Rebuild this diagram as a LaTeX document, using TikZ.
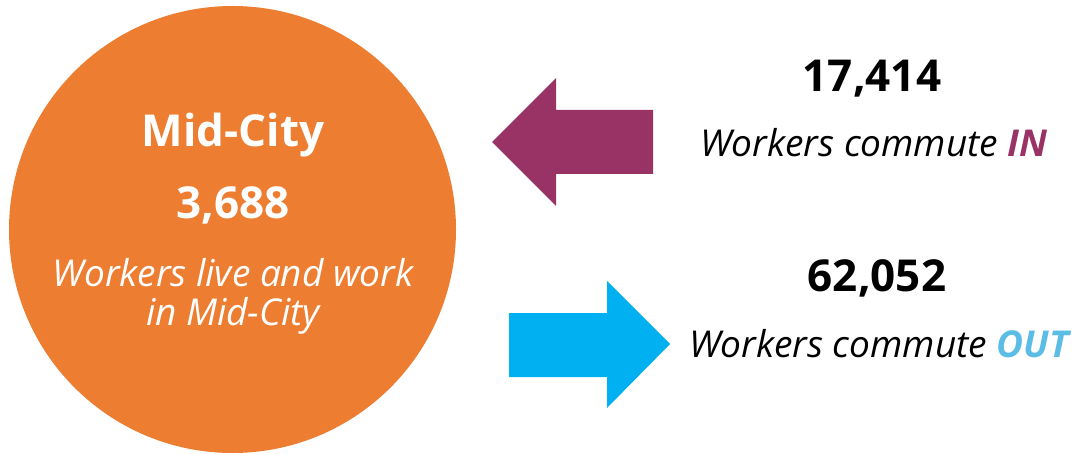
\documentclass[tikz,border=0pt]{standalone}
\usepackage{fontspec}
\setmainfont{Open Sans}
\usepackage{tikz}
\usetikzlibrary{positioning}
\usetikzlibrary{calc}

\definecolor{cityorange}{HTML}{ED7D31}
\definecolor{inpurple}{HTML}{993366}
\definecolor{outblue}{HTML}{00B0F0}
\definecolor{outtext}{HTML}{5BBDE6}

\tikzset{
  bignum/.style={draw=none,anchor=base,font=\fontsize{44}{44}\selectfont\bfseries},
  caption/.style={draw=none,anchor=base,font=\fontsize{37}{37}\selectfont\itshape},
}

\begin{document}
\begin{tikzpicture}[x=1pt,y=-1pt]
    \useasboundingbox (0,0) rectangle (1073,454);
    \fill[cityorange] (232.5,229.5) circle (223.5);
    \node[bignum,text=white] (city) at (233,147) {Mid-City};
    \node[bignum,text=white] (local) at (233,219) {3,688};
    \node[caption,text=white] (live) at (233,287) {Workers live and work};
    \node[caption,text=white] (live2) at (233,325) {in Mid-City};
    % arrows
    \fill[inpurple] (492,142)--(556,78)--(556,110)--(653,110)--(653,174)--(556,174)--(556,206)--cycle;
    \fill[outblue] (670,344)--(607,281)--(607,313)--(509,313)--(509,377)--(607,377)--(607,408)--cycle;
    \node[bignum] (innum) at (872,92) {17,414};
    \node[caption] (intext) at (874,157) {Workers commute {\bfseries\color{inpurple}IN}};
    \node[bignum] (outnum) at (877,291) {62,052};
    \node[caption] (outtext) at (879,357) {Workers commute {\bfseries\color{outtext}OUT}};
\end{tikzpicture}
\end{document}
